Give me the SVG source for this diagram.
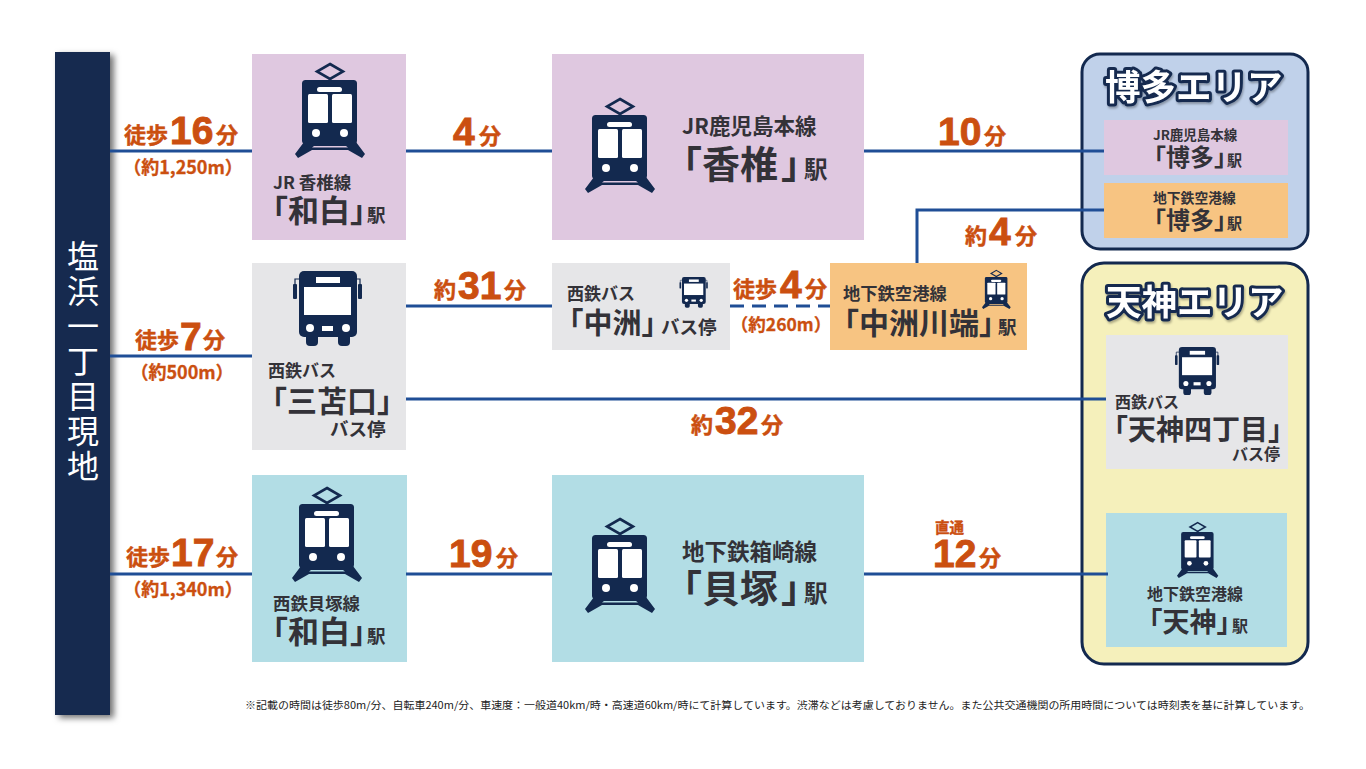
<svg xmlns="http://www.w3.org/2000/svg" width="1366" height="769" viewBox="0 0 1366 769">
<style>
text{font-family:"Noto Sans CJK JP","Noto Sans",sans-serif;font-weight:700;fill:#333238;font-feature-settings:"halt"}
.o{fill:#cb4f10;stroke:#cb4f10;stroke-width:.45;font-size:22px}
.p{fill:#cb4f10;stroke:#cb4f10;stroke-width:.3;font-size:18px;text-anchor:middle}
.n{font-family:"Liberation Sans",sans-serif;font-size:39px;stroke-width:.9}
.t{fill:#fff;stroke:#13294f;stroke-width:6;paint-order:stroke;stroke-linejoin:round;font-size:35.500px;filter:url(#ts)}
.l{fill:none;stroke:#1f4e96;stroke-width:3}
.purple{fill:#dfc8e0}.gray{fill:#e6e6e8}.teal{fill:#b2dde5}.orange{fill:#f7c482}
.area{stroke:#13294f;stroke-width:3}
</style>
<defs>
<filter id="sh" x="-30%" y="-5%" width="170%" height="110%"><feDropShadow dx="4" dy="3" stdDeviation="3" flood-color="#000" flood-opacity=".55"/></filter>
<filter id="ts" x="-10%" y="-20%" width="120%" height="150%"><feDropShadow dx="1" dy="2" stdDeviation="1" flood-color="#000" flood-opacity=".3"/></filter>
<g id="train">
<path d="M35 1 48 8.500 35 16 22 8.500Z" fill="none" stroke="#13294f" stroke-width="2.600"/>
<path d="M35 15V18" stroke="#13294f" stroke-width="2.600"/>
<rect x="7" y="17" width="55" height="64" rx="3.500" fill="#13294f"/>
<rect x="22" y="24" width="25" height="5" rx="2.500" fill="#fff"/>
<rect x="13" y="31" width="20" height="29" rx="1.500" fill="#fff"/>
<rect x="37" y="31" width="20" height="29" rx="1.500" fill="#fff"/>
<circle cx="21" cy="70" r="4" fill="#fff"/><circle cx="49" cy="70" r="4" fill="#fff"/>
<path fill-rule="evenodd" d="M9 79 0 91 3 95 17 87H53L67 95 70 91 61 79ZM19 83H51L53 84.500H17Z" fill="#13294f"/>
</g>
<g id="bus">
<rect x="0" y="13" width="4" height="15" rx="1" fill="#13294f"/><rect x="65" y="13" width="4" height="15" rx="1" fill="#13294f"/>
<path d="M2 14V8H8M67 14V8H61" fill="none" stroke="#13294f" stroke-width="1.200"/>
<rect x="6" y="0" width="58" height="66" rx="5" fill="#13294f"/>
<rect x="13" y="60" width="12" height="15" rx="4" fill="#13294f"/><rect x="45" y="60" width="12" height="15" rx="4" fill="#13294f"/>
<rect x="23" y="6" width="24" height="6" fill="#fff"/>
<rect x="11" y="16" width="47" height="28" fill="#fff"/>
<circle cx="17" cy="57" r="4" fill="#fff"/><circle cx="53" cy="57" r="4" fill="#fff"/>
<rect x="29" y="55" width="11" height="5" fill="#fff"/>
</g>
</defs>

<g id="origin">
<rect x="55" y="52" width="55" height="663" fill="#13294f" filter="url(#sh)"/>
<text x="83" y="240" style="writing-mode:vertical-rl;fill:#fff;font-weight:400;letter-spacing:3px" font-size="32">塩浜一丁目現地</text>
</g>

<g id="walk-labels">
<text class="o" y="143"><tspan x="124">徒歩</tspan><tspan class="n" x="170" dy="1">16</tspan><tspan x="216" dy="-1">分</tspan></text>
<text class="p" x="183" y="174">（約1,250m）</text>
<text class="o" y="348"><tspan x="135">徒歩</tspan><tspan class="n" x="180" dy="2">7</tspan><tspan x="203" dy="-2">分</tspan></text>
<text class="p" x="182" y="379">（約500m）</text>
<text class="o" y="565"><tspan x="126">徒歩</tspan><tspan class="n" x="171" dy="1">17</tspan><tspan x="216" dy="-1">分</tspan></text>
<text class="p" x="183" y="596">（約1,340m）</text>
<text class="o" y="297"><tspan x="733">徒歩</tspan><tspan class="n" x="780" dy="1">4</tspan><tspan x="805" dy="-1">分</tspan></text>
<text class="p" x="781" y="331" style="font-size:17.500px">（約260m）</text>
</g>

<g id="ride-labels">
<text class="o" y="144"><tspan class="n" x="453" dy="1">4</tspan><tspan x="479" dy="-1">分</tspan></text>
<text class="o" y="144"><tspan class="n" x="938" dy="1">10</tspan><tspan x="984" dy="-1">分</tspan></text>
<text class="o" y="298"><tspan x="434">約</tspan><tspan class="n" x="458" dy="1">31</tspan><tspan x="504" dy="-1">分</tspan></text>
<text class="o" y="244"><tspan x="965">約</tspan><tspan class="n" x="989" dy="1">4</tspan><tspan x="1015" dy="-1">分</tspan></text>
<text class="o" y="433"><tspan x="691">約</tspan><tspan class="n" x="715" dy="1">32</tspan><tspan x="761" dy="-1">分</tspan></text>
<text class="o" y="566"><tspan class="n" x="449" dy="1">19</tspan><tspan x="496" dy="-1">分</tspan></text>
<text class="o" x="935" y="533" style="font-size:14.500px">直通</text>
<text class="o" y="566"><tspan class="n" x="933" dy="1">12</tspan><tspan x="979" dy="-1">分</tspan></text>
</g>

<g id="node-wajiro-jr">
<rect class="purple" x="252" y="54" width="154" height="186"/>
<use href="#train" x="295" y="63"/>
<text x="273" y="189" font-size="17.500">JR 香椎線</text>
<text y="222" font-size="31"><tspan x="272.500">「</tspan><tspan x="288">和白</tspan><tspan x="350">」</tspan><tspan x="367" font-size="18.500">駅</tspan></text>
</g>
<g id="node-kashii">
<rect class="purple" x="552" y="54" width="312" height="186"/>
<use href="#train" x="585" y="98"/>
<text x="682" y="134" font-size="21.500">JR鹿児島本線</text>
<text y="178" font-size="38"><tspan x="683">「</tspan><tspan x="702">香椎</tspan><tspan x="781">」</tspan><tspan x="804" font-size="23.500">駅</tspan></text>
</g>
<g id="node-sangu">
<rect class="gray" x="252" y="263" width="154" height="187"/>
<use href="#bus" x="293" y="271"/>
<text x="268" y="377" font-size="17">西鉄バス</text>
<text x="272" y="412" font-size="30">「三苫口」</text>
<text x="330" y="436" font-size="18.500">バス停</text>
</g>
<g id="node-nakasu">
<rect class="gray" x="552" y="263" width="178" height="87"/>
<use href="#bus" transform="translate(679.500 277) scale(.41)"/>
<text x="567" y="300" font-size="17">西鉄バス</text>
<text y="334" font-size="29"><tspan x="569">「中洲」</tspan><tspan x="661" font-size="18.500">バス停</tspan></text>
</g>
<g id="node-kawabata">
<rect class="orange" x="830" y="263" width="197" height="87"/>
<use href="#train" transform="translate(982 270) scale(.41)"/>
<text x="843" y="300" font-size="17.300">地下鉄空港線</text>
<text y="334" font-size="30"><tspan x="844">「中洲川端」</tspan><tspan x="998" font-size="18.500">駅</tspan></text>
</g>
<g id="node-wajiro-nishitetsu">
<rect class="teal" x="252" y="475" width="155" height="187"/>
<use href="#train" x="292" y="487"/>
<text x="273" y="610" font-size="17.400">西鉄貝塚線</text>
<text y="643" font-size="31"><tspan x="272.500">「</tspan><tspan x="288">和白</tspan><tspan x="350">」</tspan><tspan x="367" font-size="18.500">駅</tspan></text>
</g>
<g id="node-kaizuka">
<rect class="teal" x="552" y="475" width="312" height="187"/>
<use href="#train" x="585" y="518"/>
<text x="682" y="560" font-size="22.500">地下鉄箱崎線</text>
<text y="602" font-size="38"><tspan x="683">「</tspan><tspan x="702">貝塚</tspan><tspan x="781">」</tspan><tspan x="804" font-size="23.500">駅</tspan></text>
</g>

<g id="area-hakata">
<rect class="area" x="1082" y="54" width="226" height="195" rx="18" fill="#c0d1ea"/>
<text class="t" x="1105" y="100">博多エリア</text>
<g id="node-hakata-jr">
<rect class="purple" x="1104" y="120" width="184" height="55"/>
<text x="1153" y="140" font-size="13.500">JR鹿児島本線</text>
<text y="166" font-size="24"><tspan x="1154">「博多」</tspan><tspan x="1227" font-size="15">駅</tspan></text>
</g>
<g id="node-hakata-subway">
<rect class="orange" x="1104" y="183" width="184" height="55"/>
<text x="1153" y="203" font-size="13.800">地下鉄空港線</text>
<text y="229" font-size="24"><tspan x="1154">「博多」</tspan><tspan x="1227" font-size="15">駅</tspan></text>
</g>
</g>

<g id="area-tenjin">
<rect class="area" x="1082" y="263" width="226" height="401" rx="22" fill="#f5f0bb"/>
<text class="t" x="1106" y="315">天神エリア</text>
<g id="node-tenjin-bus">
<rect class="gray" x="1106" y="335" width="182" height="134"/>
<use href="#bus" transform="translate(1175 347) scale(.64)"/>
<text x="1115" y="408" font-size="16">西鉄バス</text>
<text x="1114" y="440" font-size="28">「天神四丁目」</text>
<text x="1232" y="460" font-size="16">バス停</text>
</g>
<g id="node-tenjin-subway">
<rect class="teal" x="1106" y="513" width="181" height="134"/>
<use href="#train" transform="translate(1177 522) scale(.59)"/>
<text x="1147" y="600" font-size="16">地下鉄空港線</text>
<text y="632" font-size="27"><tspan x="1149">「天神」</tspan><tspan x="1232" font-size="16">駅</tspan></text>
</g>
</g>

<g id="connectors">
<path class="l" d="M110 151H252M406 151H552M864 151H1104"/>
<path class="l" d="M110 356H252M406 306H552M406 399H1106"/>
<path class="l" d="M730 306H830" stroke-dasharray="14 8"/>
<path class="l" d="M917 263V210H1104"/>
<path class="l" d="M110 574H252M406 574H552M864 574H1108"/>
</g>

<text x="245" y="709" font-size="10.400" style="font-weight:400;fill:#222;font-feature-settings:normal" textLength="1065" lengthAdjust="spacingAndGlyphs">※記載の時間は徒歩80m/分、自転車240m/分、車速度：一般道40km/時・高速道60km/時にて計算しています。渋滞などは考慮しておりません。また公共交通機関の所用時間については時刻表を基に計算しています。</text>
</svg>
